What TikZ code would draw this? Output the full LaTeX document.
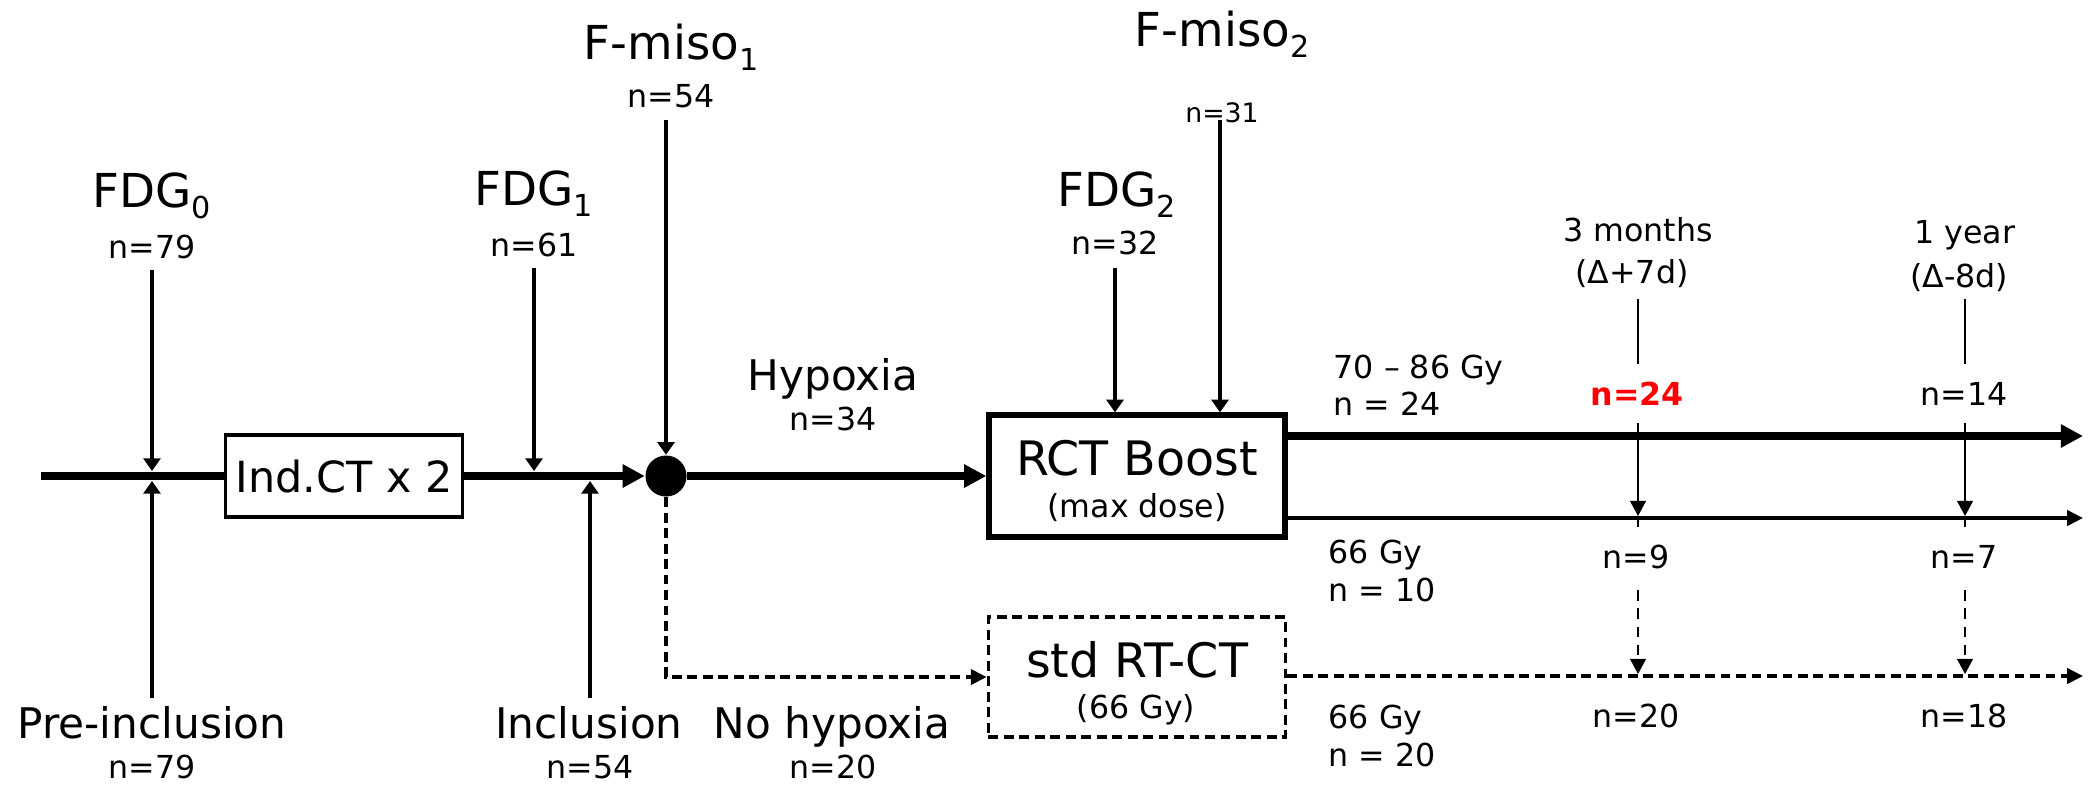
\documentclass[tikz,border=0pt]{standalone}
\usepackage{fontspec}
\setmainfont{DejaVu Sans}
\usetikzlibrary{arrows.meta}
\newcommand\sbx[1]{\raisebox{-3.3pt}{\fontsize{8.6}{10}\selectfont #1}}
\begin{document}
\begin{tikzpicture}[x=0.01cm,y=-0.01cm,
  big/.style={font=\fontsize{12}{14}\selectfont, inner sep=0pt, anchor=base},
  scan/.style={font=\fontsize{13.3}{15}\selectfont, inner sep=0pt, anchor=base},
  boxtxt/.style={font=\fontsize{13.5}{15}\selectfont, inner sep=0pt, anchor=base},
  small/.style={font=\fontsize{9}{11}\selectfont, inner sep=0pt, anchor=base},
  smallw/.style={small, anchor=base west},
  tiny/.style={font=\fontsize{7.6}{9}\selectfont, inner sep=0pt, anchor=base},
  mainline/.style={line width=2.4pt},
  bigtip/.style={-{Triangle[length=6.3pt,width=6.3pt]}},
  thinarrow/.style={line width=0.95pt, -{Triangle[length=3.6pt,width=4.8pt]}},
  medtip/.style={-{Triangle[length=4.5pt,width=4.3pt]}},
  dashpat/.style={dash pattern=on 2.8pt off 1.6pt},
  fine/.style={line width=0.45pt},
  finetip/.style={-{Triangle[length=4.3pt,width=4.5pt]}},
]
\useasboundingbox (0,0) rectangle (2095,793);

% boxes and hub
\coordinate (start) at (41,476);
\node[draw, line width=1pt, minimum width=2.37cm, minimum height=0.82cm, inner sep=0pt,
      font=\fontsize{12.2}{14}\selectfont] (ind) at (344,476) {Ind.CT x 2};
\node[circle, fill=black, minimum size=0.41cm, inner sep=0pt] (hub) at (666,476) {};
\node[draw, line width=1.5pt, minimum width=2.96cm, minimum height=1.22cm, inner sep=0pt] (rct) at (1137,476) {};
\node[draw, line width=1pt, dashpat, minimum width=2.97cm, minimum height=1.20cm, inner sep=0pt] (std) at (1137,677) {};

\node[boxtxt] (rcttxt) at (1137,475) {RCT Boost};
\node[small] (rctsub) at (1137,517) {(max dose)};
\node[boxtxt] (stdtxt) at (1137,677) {std RT-CT};
\node[small] (stdsub) at (1136,718) {(66 Gy)};

% main flow
\draw[mainline] (start) -- (ind.west);
\draw[mainline, bigtip] (ind.east) -- (hub.west);
\draw[mainline, bigtip] (hub.east) -- (rct.west);
\draw[line width=1pt, dashpat, medtip] (hub.south) |- (std.west);

% outputs
\coordinate (o1) at (2083,436);
\coordinate (o2) at (2083,518);
\coordinate (o3) at (2083,676);
\draw[line width=2.3pt, bigtip] (rct.east |- o1) -- (o1);
\draw[line width=1pt, medtip] (rct.east |- o2) -- (o2);
\draw[line width=1pt, dashpat, medtip] (std.east |- o3) -- (o3);

% vertical arrows
\coordinate (f0a) at (152,270); \coordinate (f0b) at (152,471);
\coordinate (p0a) at (152,698); \coordinate (p0b) at (152,481);
\coordinate (f1a) at (534,268); \coordinate (f1b) at (534,471);
\coordinate (i0a) at (590,698); \coordinate (i0b) at (590,481);
\coordinate (fm1) at (666,120);
\coordinate (f2a) at (1115,268);
\coordinate (fm2) at (1220,120);
\draw[thinarrow] (f0a) -- (f0b);
\draw[thinarrow] (p0a) -- (p0b);
\draw[thinarrow] (f1a) -- (f1b);
\draw[thinarrow] (i0a) -- (i0b);
\draw[thinarrow] (fm1) -- (hub.north);
\draw[thinarrow] (f2a) -- (f2a |- rct.north);
\draw[thinarrow] (fm2) -- (fm2 |- rct.north);

% follow-up columns
\foreach \nm/\xx in {m/1638, y/1965}{
  \coordinate (\nm a) at (\xx,299);
  \coordinate (\nm b) at (\xx,364);
  \coordinate (\nm c) at (\xx,423);
  \coordinate (\nm d) at (\xx,516);
  \coordinate (\nm e) at (\xx,527);
  \coordinate (\nm f) at (\xx,590);
  \coordinate (\nm g) at (\xx,674);
  \draw[fine] (\nm a) -- (\nm b);
  \draw[fine, finetip] (\nm c) -- (\nm d);
  \draw[fine] (\nm d) -- (\nm e);
  \draw[fine, dash pattern=on 3pt off 2.2pt, finetip] (\nm f) -- (\nm g);
}

% labels
\node[scan] (fdg0) at (152,207) {FDG\sbx{0}};
\node[small] (fdg0n) at (152,258) {n=79};
\node[scan] (fdg1) at (534,205) {FDG\sbx{1}};
\node[small] (fdg1n) at (534,256) {n=61};
\node[scan] (fmiso1) at (671,59) {F-miso\sbx{1}};
\node[small] (fmiso1n) at (671,107) {n=54};
\node[scan] (fmiso2) at (1222,46) {F-miso\sbx{2}};
\node[tiny] (fmiso2n) at (1222,122) {n=31};
\node[scan] (fdg2) at (1117,206) {FDG\sbx{2}};
\node[small] (fdg2n) at (1115,254) {n=32};
\node[big] (hyp) at (833,390) {Hypoxia};
\node[small] (hypn) at (833,430) {n=34};

\node[small] (t3m) at (1638,241) {3 months};
\node[small] (t3md) at (1632,283) {(Δ+7d)};
\node[small] (t1y) at (1965,243) {1 year};
\node[small] (t1yd) at (1959,287) {(Δ-8d)};

\node[smallw] (dose1) at (1333,378) {70 – 86 Gy};
\node[smallw] (dose1n) at (1333,415) {n = 24};
\node[small, font=\fontsize{9}{11}\selectfont\bfseries, text=red] (m24) at (1637,405) {n=24};
\node[small] (y14) at (1964,405) {n=14};

\node[smallw] (dose2) at (1328,563) {66 Gy};
\node[smallw] (dose2n) at (1328,601) {n = 10};
\node[small] (m9) at (1636,568) {n=9};
\node[small] (y7) at (1964,568) {n=7};

\node[smallw] (dose3) at (1328,728) {66 Gy};
\node[smallw] (dose3n) at (1328,766) {n = 20};
\node[small] (m20) at (1636,727) {n=20};
\node[small] (y18) at (1964,727) {n=18};

\node[big] (pre) at (152,738) {Pre-inclusion};
\node[small] (pren) at (152,778) {n=79};
\node[big] (inc) at (589,738) {Inclusion};
\node[small] (incn) at (590,778) {n=54};
\node[big] (nohyp) at (832,738) {No hypoxia};
\node[small] (nohypn) at (833,778) {n=20};
\end{tikzpicture}
\end{document}
